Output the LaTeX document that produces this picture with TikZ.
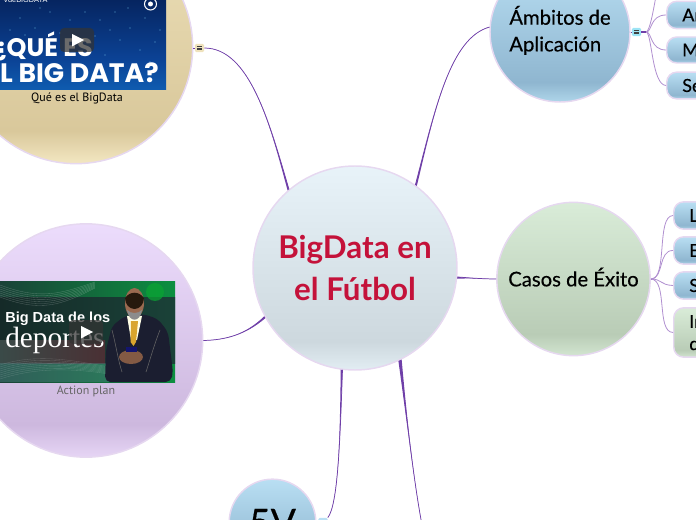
\documentclass[tikz,border=0pt]{standalone}
\usepackage{fontspec}
\setmainfont{Lato}
\newfontfamily\medfont[FakeBold=0.35]{Lato}
\newfontfamily\capfont{PT Sans}
\newfontfamily\popfont{Poppins}
\newfontfamily\arialf{Liberation Sans}
\newfontfamily\timesf{Liberation Serif}
\usetikzlibrary{calc}
\definecolor{ctop}{HTML}{E8F3F9}\definecolor{cdark}{HTML}{CDD8DE}\definecolor{cbot}{HTML}{E2EDF3}
\definecolor{ttop}{HTML}{ECDFB8}\definecolor{tdark}{HTML}{D9C89B}\definecolor{tbot}{HTML}{F3E7C2}
\definecolor{ptop}{HTML}{ECDCFC}\definecolor{pdark}{HTML}{CDB8DE}\definecolor{pbot}{HTML}{E6D5F5}
\definecolor{btop}{HTML}{B9DFF3}\definecolor{bdark}{HTML}{8FB6D0}\definecolor{bbot}{HTML}{AFD6EA}
\definecolor{gtop}{HTML}{D9ECD8}\definecolor{gdark}{HTML}{B9CCB6}\definecolor{gbot}{HTML}{D2E5D0}
\definecolor{edge}{HTML}{E6D8F0}
\definecolor{conn}{HTML}{6F3FA8}
\definecolor{childconn}{HTML}{B08FD0}
\definecolor{titlered}{HTML}{C4123A}
\definecolor{navyA}{HTML}{06245E}\definecolor{navyB}{HTML}{0B4295}\definecolor{navyC}{HTML}{0F5CB0}
\definecolor{suit}{HTML}{1B1E30}\definecolor{skin}{HTML}{9A6A50}\definecolor{tie}{HTML}{D9A52E}
\definecolor{darkband}{HTML}{152A28}\definecolor{leafgreen}{HTML}{0C8F40}\definecolor{tealdark}{HTML}{1A4238}
\definecolor{glowL}{HTML}{3A4A48}\definecolor{glowR}{HTML}{4A3034}
\pgfdeclareverticalshading{cshade}{100bp}{color(0bp)=(cbot);color(25bp)=(cbot);color(32bp)=(cdark);color(75bp)=(ctop);color(100bp)=(ctop)}
\pgfdeclareverticalshading{tshade}{100bp}{color(0bp)=(tbot);color(25bp)=(tbot);color(32bp)=(tdark);color(75bp)=(ttop);color(100bp)=(ttop)}
\pgfdeclareverticalshading{pshade}{100bp}{color(0bp)=(pbot);color(25bp)=(pbot);color(32bp)=(pdark);color(75bp)=(ptop);color(100bp)=(ptop)}
\pgfdeclareverticalshading{bshade}{100bp}{color(0bp)=(bbot);color(25bp)=(bbot);color(32bp)=(bdark);color(75bp)=(btop);color(100bp)=(btop)}
\pgfdeclareverticalshading{gshade}{100bp}{color(0bp)=(gbot);color(25bp)=(gbot);color(32bp)=(gdark);color(75bp)=(gtop);color(100bp)=(gtop)}
\pgfdeclareverticalshading{navyshade}{100bp}{color(0bp)=(navyC);color(25bp)=(navyC);color(42bp)=(navyB);color(75bp)=(navyA);color(100bp)=(navyA)}
\tikzset{
  bubble/.style={circle,draw=edge,line width=1.1pt,inner sep=0pt,text=black,align=left,font=\medfont\fontsize{15.2}{20}\selectfont},
  child/.style={draw=edge,line width=1.1pt,rounded corners=7.5pt,inner sep=0pt,minimum width=60pt,shading=bshade,anchor=west},
  chtxt/.style={font=\medfont\fontsize{13.5}{19}\selectfont,text=black,anchor=west,inner sep=0pt},
  iconbox/.style={minimum width=6.8pt,minimum height=6.2pt,inner sep=0pt,rounded corners=1pt},
  branch/.style={draw=childconn,line width=.6pt},
  playbg/.style={fill=black!80,fill opacity=.72,rounded corners=3pt},
}
\newcommand{\taper}[5]{%
  \pgfmathsetmacro{\ta}{#2+0.6}\pgfmathsetmacro{\tb}{#2-0.6}%
  \fill[conn] (#1.\ta) .. controls #3 and #4 .. #5 .. controls #4 and #3 .. (#1.\tb) -- cycle;
  \draw[conn,line width=.55pt] (#1.#2) .. controls #3 and #4 .. #5;}
\newcommand{\menuicon}[1]{\foreach \d in {-1.6,0,1.6}{\draw[black!75,line width=.55pt] ($(#1)+(-2.6,\d)$) -- ($(#1)+(2.6,\d)$);}}
\begin{document}
\begin{tikzpicture}[x=.75pt,y=-.75pt]
\useasboundingbox (0,0) rectangle (696,520);
\clip (0,0) rectangle (696,520);

% bubbles
\node[bubble,minimum size=153pt,shading=cshade,text=titlered,align=center,font=\fontsize{23.5}{31.5}\selectfont\bfseries] (cen) at (355,268) {BigData en\\el Fútbol};
\node[bubble,minimum size=175pt,shading=tshade] (que) at (76,47) {};
\node[bubble,minimum size=175pt,shading=pshade] (act) at (86,340.5) {};
\node[bubble,minimum size=105pt,shading=bshade] (amb) at (560,32) {\rule[-1.5pt]{0pt}{1pt}Ámbitos de\hspace{6pt}\\Aplicación\rule[-5pt]{0pt}{1pt}};
\node[bubble,minimum size=115pt,shading=gshade] (cas) at (573.5,279) {\rule[-3pt]{0pt}{1pt}Casos de Éxito};
\node[bubble,minimum size=65pt,shading=bshade,font=\medfont\fontsize{28}{30}\selectfont,align=center] (five) at (272.5,522.5) {5V};

% icon boxes
\node[iconbox,fill=tbot!85!tdark] (tic) at (199.5,48) {};
\menuicon{tic}
\node[iconbox,fill=btop!85!cyan] (aic) at (636.5,32) {};
\menuicon{aic}
\node[iconbox,fill=btop] (fic) at (323,522) {};

% free ends
\coordinate (offtop) at (656,-4);
\coordinate (offbot) at (423,530);
\coordinate (casj) at (651,279);

% main connectors
\taper{cen}{130.7}{(270,125)}{(250,48)}{(tic.east)}
\draw[conn,line width=.5pt] (tic.west) -- (que.0|-tic.west);
\taper{cen}{54}{(435,110)}{(450,38)}{(amb.176)}
\taper{cen}{-5.6}{(470,278)}{(485,279)}{(cas.west)}
\taper{cen}{209}{(245,335)}{(225,340)}{(act.east)}
\taper{cen}{263}{(340,440)}{(338,505)}{(fic.north east)}
\taper{cen}{-64.4}{(408,430)}{(415,490)}{(offbot)}
\draw[conn,line width=.7pt] (amb.east) -- (aic.west);
\draw[conn,line width=.7pt] (cas.east) -- (casj);

% children of Ambitos
\node[child,minimum height=20.5pt] (an) at (666,15) {};
\node[child,minimum height=19.5pt] (mo) at (666,50) {};
\node[child,minimum height=20pt] (se) at (666,85.5) {};
\node[chtxt] at (682,15) {An};
\node[chtxt] at (682,50) {M};
\node[chtxt] at (682,85.5) {Se};
\draw[conn,line width=.8pt] (aic.east) -- ++(5,0) coordinate (aj);
\draw[branch] (aj) .. controls (650,30) and (653,12) .. (offtop);
\draw[branch] (aj) .. controls (652,32) and (650,15) .. (an.west);
\draw[branch] (aj) .. controls (652,32) and (650,50) .. (mo.west);
\draw[branch] (aj) .. controls (652,34) and (652,85) .. (se.west);

% children of Casos
\node[child,minimum height=20.5pt] (c1) at (673,215.5) {};
\node[child,minimum height=20.5pt] (c2) at (673,250.5) {};
\node[child,minimum height=20.5pt] (c3) at (673,285.5) {};
\node[child,minimum height=37pt,shading=gshade] (c4) at (673,332.5) {};
\node[chtxt] at (689,215.5) {L};
\node[chtxt] at (689,250.5) {E};
\node[chtxt] at (689,285.5) {S};
\node[chtxt] at (689,321.5) {In};
\node[chtxt] at (689,343.5) {d};
\draw[branch] (casj) .. controls (668,279) and (656,216) .. (c1.west);
\draw[branch] (casj) .. controls (664,279) and (658,250) .. (c2.west);
\draw[branch] (casj) .. controls (662,279) and (660,285) .. (c3.west);
\draw[branch] (casj) .. controls (668,280) and (656,332) .. (c4.west);

% thumbnail 1
\begin{scope}
\clip (-2,-2) rectangle (166,90);
\shade[shading=navyshade] (-2,-2) rectangle (166,90);
\foreach \px/\py in {100/20,115/12,130/28,145/18,155/42,120/40,20/18,35/28,50/12,70/20,85/12,140/50,105/55,150/62,25/35,160/30,10/30,110/30,128/8,60/33,40/8,95/36}{
  \fill[cyan!50!white,opacity=.35] (\px,\py) circle (.8);}
\node[text=white,font=\popfont\bfseries\fontsize{19}{19}\selectfont,anchor=base east,inner sep=0pt] at (93,57) {¿QUÉ ES};
\node[text=white,font=\popfont\bfseries\fontsize{20}{20}\selectfont,anchor=base east,inner sep=0pt] at (159,83) {EL BIG DATA?};
\node[text=white,font=\arialf\fontsize{5.5}{5.5}\selectfont,anchor=base west,inner sep=0pt] at (3,3) {VdeBIGDATA};
\draw[white,line width=.8pt] (150.5,4) circle (6);
\fill[white] (150.5,4) circle (2.5);
\fill[playbg] (60,28) rectangle (94,52);
\fill[white] (72,34) -- (84,40) -- (72,46.5) -- cycle;
\end{scope}
\node[font=\capfont\fontsize{9}{10}\selectfont,text=black,inner sep=0pt] (cap1) at (77,98) {Qué es el BigData};

% thumbnail 2
\begin{scope}
\clip (0,282) rectangle (175,382);
\shade[left color=tealdark,right color=leafgreen] (0,282) rectangle (175,382);
\shade[left color=darkband,right color=tealdark] (0,298) rectangle (175,363);
\shade[left color=glowL,right color=glowR] (0,340) rectangle (105,363);
\fill[gray!60!teal,opacity=.45] (0,363) rectangle (115,382);
\foreach \i in {0,...,6}{
  \draw[white,opacity=.25,line width=.25pt] (0,{285+2*\i}) .. controls (40,{300+2*\i}) and (60,{294+2*\i}) .. (95,{282+\i});}
\foreach \i in {0,...,7}{
  \draw[white,opacity=.18,line width=.25pt] (0,{365+2*\i}) .. controls (40,{352+2*\i}) and (80,{362+\i}) .. (115,{368+\i});}
\fill[leafgreen!80!green,opacity=.7] (155,292) circle (9);
\node[text=white,font=\arialf\bfseries\fontsize{10.9}{10.9}\selectfont,anchor=base west,inner sep=0pt] at (5,323) {Big Data de los};
\node[text=white,font=\timesf\fontsize{22}{22}\selectfont,anchor=base west,inner sep=0pt] at (5,347) {deportes};
% presenter
\fill[suit,rounded corners=4pt] (105,382) -- (106,350) -- (112,326) -- (125,316) -- (143,314) -- (158,319) -- (168,332) -- (173,372) -- (171,382) -- cycle;
\fill[white!90!yellow] (127,316) -- (142,316) -- (137,340) -- (131,340) -- cycle;
\fill[tie] (131,321) -- (138,321) -- (136,342) -- (133.5,346) -- (130.5,342) -- cycle;
\fill[skin] (134.5,303) ellipse (9.5 and 15);
\fill[black!80!brown] (125,298) arc (180:0:9.5 and 11) .. controls (139,291) and (130,291) .. (125,298) -- cycle;
\fill[black!45] (127,310) .. controls (129,323) and (140,323) .. (142,310) .. controls (138,314) and (131,314) .. (127,310);
\draw[black!60,line width=.4pt] (112,330) .. controls (116,345) and (118,360) .. (122,372);
\draw[black!60,line width=.4pt] (160,330) .. controls (154,345) and (150,360) .. (146,372);
\fill[skin!85!black] (131,357) ellipse (12 and 7);
\fill[suit!70!blue] (126,347) rectangle (137,352);
\fill[playbg] (69,320) rectangle (103,344);
\fill[white] (81,326) -- (93,332) -- (81,338.5) -- cycle;
\end{scope}
\node[font=\capfont\fontsize{9}{10}\selectfont,text=black!60,inner sep=0pt] (cap2) at (86,391) {Action plan};
\end{tikzpicture}
\end{document}
